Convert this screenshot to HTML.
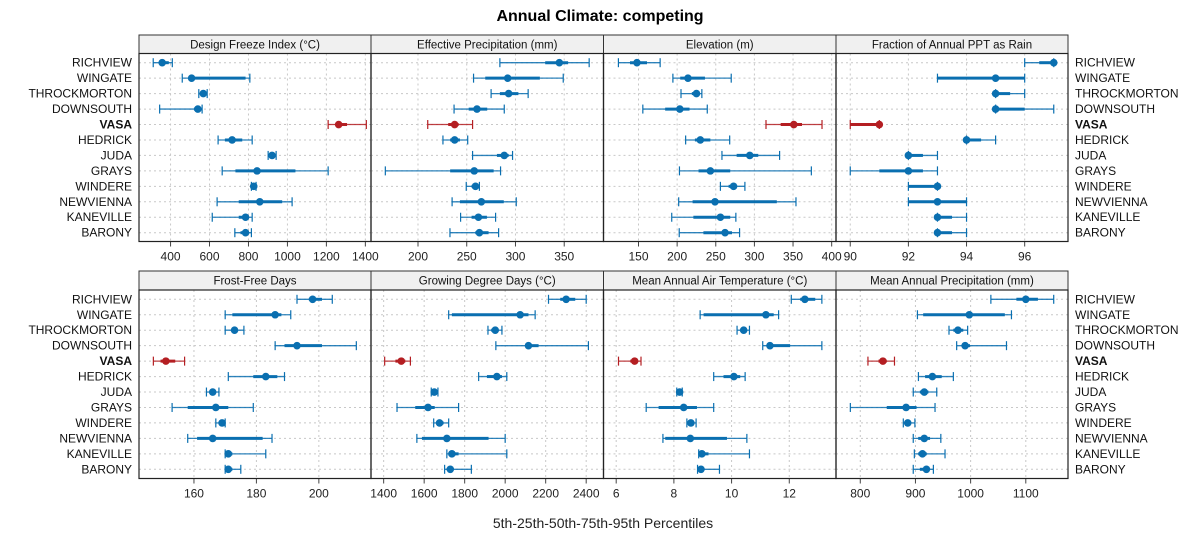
<!DOCTYPE html>
<html><head><meta charset="utf-8"><style>
body{margin:0;background:#fff;font-family:"Liberation Sans",sans-serif;}
svg text{font-family:"Liberation Sans",sans-serif;}
</style></head><body>
<svg id="chart" width="1200" height="550" xmlns="http://www.w3.org/2000/svg">
<text x="600" y="21" text-anchor="middle" font-size="16" font-weight="bold">Annual Climate: competing</text>
<text x="603" y="528" text-anchor="middle" font-size="14" fill="#222">5th-25th-50th-75th-95th Percentiles</text>
</svg>
<script>
const sites = ["RICHVIEW","WINGATE","THROCKMORTON","DOWNSOUTH","VASA","HEDRICK","JUDA","GRAYS","WINDERE","NEWVIENNA","KANEVILLE","BARONY"];
const highlightSite = "VASA";
const panelTitles = ["Design Freeze Index (°C)","Effective Precipitation (mm)","Elevation (m)","Fraction of Annual PPT as Rain","Frost-Free Days","Growing Degree Days (°C)","Mean Annual Air Temperature (°C)","Mean Annual Precipitation (mm)"];
const panelDomains = [[238,1429],[151.8,390.3],[104.7,405.6],[89.51,97.49],[142.4,216.7],[1337.5,2485.5],[5.56,13.62],[756,1176.5]];
const panelTicks = [[400,600,800,1000,1200,1400],[200,250,300,350],[150,200,250,300,350,400],[90,92,94,96],[160,180,200],[1400,1600,1800,2000,2200,2400],[6,8,10,12],[800,900,1000,1100]];
const freezeIndex = [[311,340,357,391,409],[460,494,508,785,807],[545,556,568,580,588],[344,520,540,554,562],[1209,1246,1263,1306,1405],[644,679,716,768,819],[901,909,921,933,942],[665,733,844,1041,1209],[815,820,827,834,839],[639,750,858,973,1024],[614,750,785,802,819],[730,759,785,802,815]];
const effPrecip = [[284,330.5,345,354,375.6],[257,269,292,325,349],[275,284,293,303,313],[237,252,260.5,271,288.5],[210,231,237.6,241.7,256],[225.6,233,237.6,243,251],[256,281,288.5,293,297],[166.5,233,257.7,277.6,284.7],[249.5,255,259,261.5,263],[235,243,265,288,300.8],[243.7,255,262,270.7,279.6],[232.8,258.8,263,272.4,282.7]];
const elevation = [[124,139,148,161,178],[194.5,204,214,236,270],[205,219,225,229,232],[155.6,184.5,203.5,216,239],[315,334,351,361.6,387.5],[211,223,230,243,268],[258,277,294,305,332.6],[203,227.7,243,268.7,373.7],[256,266.6,273,277,287.7],[202,220,249,329,353.8],[193,221,256,268.7,276],[202.7,234,262,271,280.8]];
const fracRain = [[96,96.5,97,97,97],[93,93,95,96,96],[95,95,95,95.5,96],[95,95,95,96,97],[90,90,91,91,91],[94,94,94,94.5,95],[92,92,92,92.5,93],[90,91,92,92.5,93],[92,92,93,93,93],[92,92,93,94,94],[93,93,93,93.5,94],[93,93,93,93.5,94]];
const frostFree = [[193,196.8,198,201,204.3],[170,172.3,186,188,191],[170,172.3,173,174,176],[186,189,193,201,212],[147,149.3,151,154,157],[171,179,183,186.7,189],[164,165,166,167,168],[153,158,167,171,179],[167,168.4,169,169.6,170],[158,161,166,182,185],[170,170.3,171,172.3,183],[170,170.3,171,172.3,175]];
const gdd = [[2214,2272,2301,2346,2400],[1721,1737,2074,2115,2148],[1915,1931,1951,1967,1984],[1954,2099,2115,2165,2411],[1405,1458,1487,1507,1532],[1869,1910,1959,1984,2008],[1635,1638,1650,1660,1668],[1466,1556,1619,1652,1770],[1647,1660,1676,1696,1721],[1564,1589,1712,1918,2000],[1712,1721,1737,1770,2008],[1701,1712,1729,1745,1833]];
const maat = [[12.07,12.38,12.54,12.9,13.13],[8.91,9.03,11.19,11.46,11.63],[10.19,10.3,10.42,10.53,10.62],[11.08,11.23,11.33,12.03,13.13],[6.08,6.49,6.64,6.72,6.86],[9.38,9.72,10.08,10.3,10.47],[8.1,8.14,8.2,8.25,8.29],[7.04,7.47,8.34,8.8,9.38],[8.45,8.51,8.59,8.68,8.77],[7.62,7.7,8.57,9.84,10.53],[8.86,8.89,8.97,9.2,10.62],[8.82,8.86,8.94,9.03,9.58]];
const map = [[1036.7,1083,1100,1122,1150.6],[903.6,914,997.6,1062,1074],[960.8,968.7,977,986.7,994.6],[974.7,983.7,990,998.8,1065],[813.9,833,841,848,862],[905.4,917.5,930.7,947.6,968.7],[896,908,916,923.5,938.6],[782,848,883,902,935.5],[878,881,886,890,899],[896,905,916,926.5,946],[898,905,912.7,920.5,953.6],[896,908,919.9,923.5,932.5]];
const panelData = [freezeIndex,effPrecip,elevation,fracRain,frostFree,gdd,maat,map];

const NS="http://www.w3.org/2000/svg";
const svg=document.getElementById('chart');
function mk(tag,attrs,parent){const e=document.createElementNS(NS,tag);for(const k in attrs)e.setAttribute(k,attrs[k]);(parent||svg).appendChild(e);return e;}
const colX=[139,371,603.5,836,1068];
const rows=[{head:35,top:53.5,bot:241.5,first:62.7,last:232.7},{head:271,top:290,bot:478.5,first:299.3,last:469.3}];
const BLUE="#0a6fb0", RED="#b41e22";

rows.forEach((r,ri)=>{
  const step=(r.last-r.first)/(sites.length-1);
  const yOf=i=>r.first+i*step;
  sites.forEach((s,i)=>{
    const bold=s===highlightSite?"bold":"normal";
    const l=mk('text',{x:132,y:yOf(i)+4,'text-anchor':'end','font-size':12,'font-weight':bold,fill:'#111'});
    
    
    l.textContent=s;
    const rl=mk('text',{x:1075,y:yOf(i)+4,'text-anchor':'start','font-size':12,'font-weight':bold,fill:'#111'});
    
    
    rl.textContent=s;
  });
  for(let c=0;c<4;c++){
    const p=ri*4+c;
    const x0=colX[c],x1=colX[c+1];
    const [d0,d1]=panelDomains[p];
    const sx=v=>x0+(v-d0)/(d1-d0)*(x1-x0);
    const g=mk('g',{});
    
    
    const h=mk('rect',{x:x0,y:r.head,width:x1-x0,height:r.top-r.head,fill:'#f0f0f0',stroke:'#333','stroke-width':1},g);
    
    
    const ht=mk('text',{x:(x0+x1)/2,y:r.head+13.5,'text-anchor':'middle','font-size':11.5,fill:'#111'},g);
    
    
    ht.textContent=panelTitles[p];
    panelTicks[p].forEach(t=>{
      const x=sx(t);
      const gl=mk('line',{x1:x,x2:x,y1:r.top,y2:r.bot,stroke:'#c8c8c8','stroke-dasharray':'2,3','stroke-width':1},g);
      
      
      const tk=mk('line',{x1:x,x2:x,y1:r.bot,y2:r.bot+5,stroke:'#444'},g);
      
      
      const tl=mk('text',{x:x,y:r.bot+19,'text-anchor':'middle','font-size':12,fill:'#222'},g);
      
      
      tl.textContent=t;
    });
    sites.forEach((s,i)=>{
      const y=yOf(i);
      const gl=mk('line',{x1:x0,x2:x1,y1:y,y2:y,stroke:'#c8c8c8','stroke-dasharray':'2,3','stroke-width':1},g);
      
      
    });
    panelData[p].forEach((q,i)=>{
      const y=yOf(i);
      const col=sites[i]===highlightSite?RED:BLUE;
      const w=mk('line',{x1:sx(q[0]),x2:sx(q[4]),y1:y,y2:y,stroke:col,'stroke-width':1.3,'stroke-opacity':0.85},g);
      
      
      [q[0],q[4]].forEach(v=>{
        const cap=mk('line',{x1:sx(v),x2:sx(v),y1:y-4.5,y2:y+4.5,stroke:col,'stroke-width':1.2},g);
        
        
      });
      const b=mk('line',{x1:sx(q[1]),x2:sx(q[3]),y1:y,y2:y,stroke:col,'stroke-width':3},g);
      
      
      const d=mk('circle',{cx:sx(q[2]),cy:y,r:3.8,fill:col},g);
      
      
    });
    const fr=mk('rect',{x:x0,y:r.top,width:x1-x0,height:r.bot-r.top,fill:'none',stroke:'#222','stroke-width':1.2},g);
    
    
  }
});
</script>
</body></html>
